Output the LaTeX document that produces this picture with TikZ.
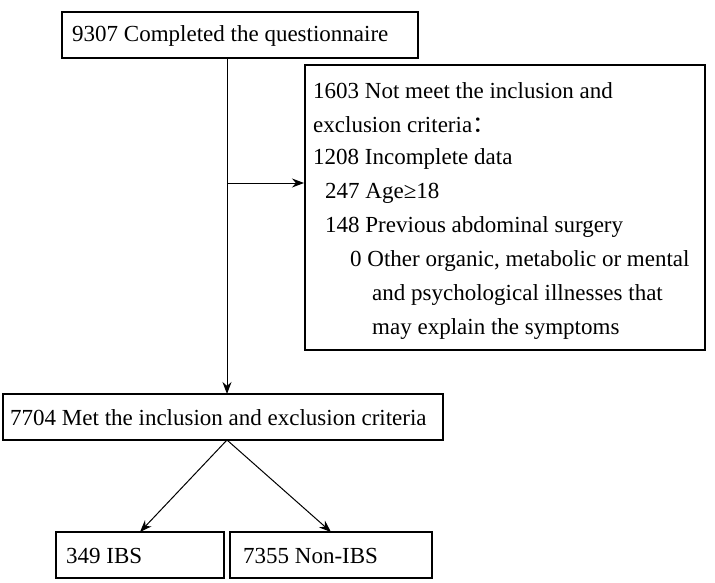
\documentclass[tikz,border=0pt]{standalone}
\usepackage{fontspec}
\setmainfont{Liberation Serif}
\newfontfamily\cjk{Noto Sans CJK SC}
\usetikzlibrary{arrows.meta}
\begin{document}
\begin{tikzpicture}[x=1pt,y=-1pt,
  bx/.style={draw,line width=1.5pt},
  tx/.style={anchor=west,inner sep=0pt,font=\fontsize{23}{27}\selectfont},
  ar/.style={-{Stealth[length=12pt,width=9pt]},line width=1pt}]
\useasboundingbox (0,0) rectangle (715,583);
\node[bx,minimum width=356pt,minimum height=46pt] (top) at (240,35) {};
\node[tx] (t1) at (72,36) {9307 Completed the questionnaire};
\node[bx,minimum width=400pt,minimum height=285pt] (ex) at (505,207.5) {};
\node[tx] at (313,91) {1603 Not meet the inclusion and};
\node[tx] at (313,125) {exclusion criteria{\cjk ：}};
\node[tx] at (313,159) {1208 Incomplete data};
\node[tx] at (325,193) {247 Age≥18};
\node[tx] at (325,227) {148 Previous abdominal surgery};
\node[tx] at (350,261) {0 Other organic, metabolic or mental};
\node[tx] at (372,295) {and psychological illnesses that};
\node[tx] at (372,329) {may explain the symptoms};
\node[bx,minimum width=440pt,minimum height=46pt] (mid) at (223,417) {};
\node[tx] at (10,418) {7704 Met the inclusion and exclusion criteria};
\node[bx,minimum width=168pt,minimum height=46pt] (ibs) at (140,555) {};
\node[tx] at (66,556) {349 IBS};
\node[bx,minimum width=202pt,minimum height=46pt] (non) at (331,555) {};
\node[tx] at (243,556) {7355 Non-IBS};
\coordinate (s) at (227,58);
\coordinate (b) at (227,183);
\draw[ar] (s) -- (227,394);
\draw[ar] (b) -- (304,183);
\coordinate (m) at (227,440);
\draw[ar] (m) -- (140,532);
\draw[ar] (m) -- (331,532);
\end{tikzpicture}
\end{document}
